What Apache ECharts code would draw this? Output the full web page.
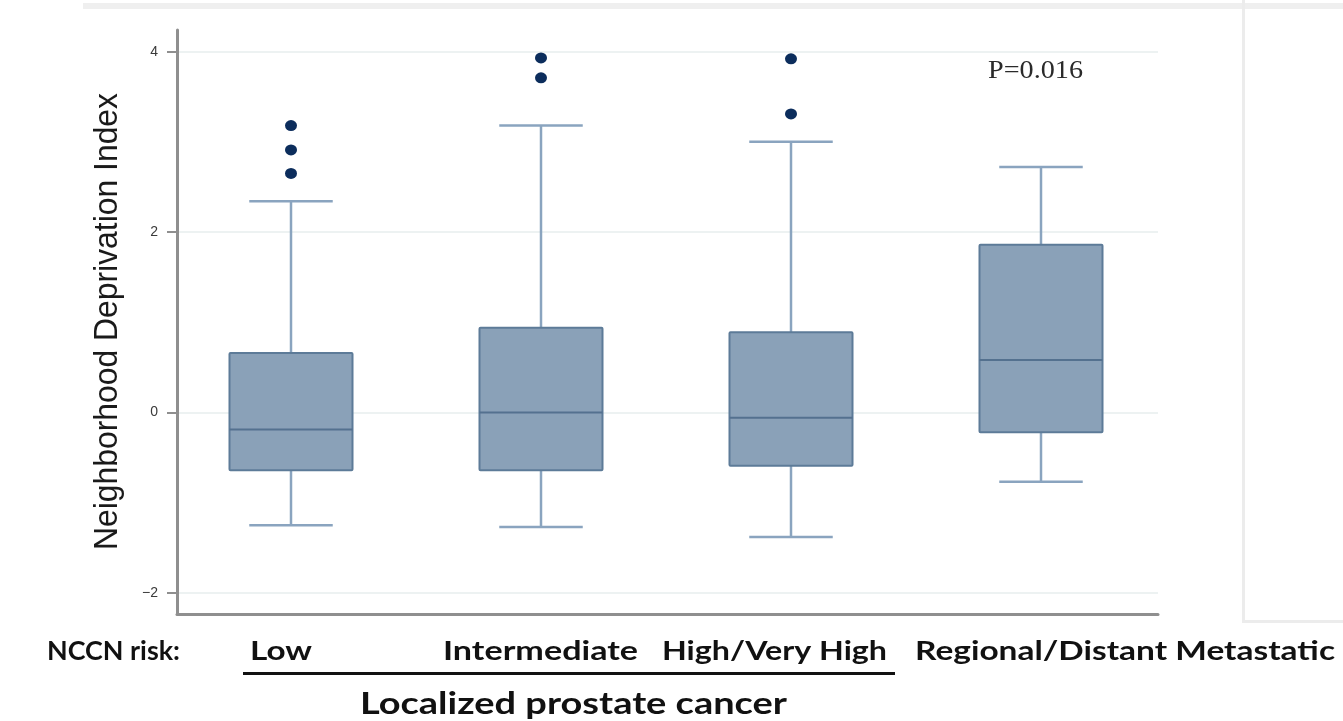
<!DOCTYPE html>
<html>
<head>
<meta charset="utf-8">
<script src="https://cdn.jsdelivr.net/npm/echarts@6/dist/echarts.min.js"></script>
<style>
  html, body { margin: 0; padding: 0; background: #ffffff; }
  #chart { width: 1343px; height: 721px; }
</style>
</head>
<body>
<div id="chart"></div>
<script>
// Neighborhood Deprivation Index by NCCN risk group
const categories = ['Low', 'Intermediate', 'High/Very High', 'Regional/Distant Metastatic'];
const whiskerLow  = [-1.25, -1.27, -1.38, -0.77];
const quartile1   = [-0.64, -0.64, -0.59, -0.22];
const median      = [-0.19,  0.00, -0.06,  0.58];
const quartile3   = [ 0.66,  0.94,  0.89,  1.86];
const whiskerHigh = [ 2.34,  3.18,  3.00,  2.72];
const outliers    = [[3.18, 2.91, 2.65], [3.93, 3.71], [3.92, 3.31], []];
const yTicks = [-2, 0, 2, 4];
const yTitle = 'Neighborhood Deprivation Index';
const pText = 'P=0.016';
const riskTitle = 'NCCN risk:';
const groupTitle = 'Localized prostate cancer';

const Y_MIN = -2.235, Y_MAX = 4.24;

const boxData = categories.map((c, i) =>
  [i, whiskerLow[i], quartile1[i], median[i], quartile3[i], whiskerHigh[i]]);
const outlierData = [];
outliers.forEach((vals, i) => vals.forEach(v => outlierData.push([i, v])));

// text fitted to a horizontal span
const measureCtx = document.createElement('canvas').getContext('2d');
function fitText(text, font, left, right, cy, fill, rotate) {
  measureCtx.font = font;
  const w = measureCtx.measureText(text).width;
  const target = right - left;
  const el = {
    type: 'text',
    x: rotate ? cy : left,
    y: rotate ? (left + right) / 2 : cy,
    scaleX: target / w,
    style: {
      text: text,
      font: font,
      fill: fill,
      textAlign: rotate ? 'center' : 'left',
      textVerticalAlign: 'middle'
    }
  };
  if (rotate) el.rotation = Math.PI / 2;
  return el;
}

const labelFont = 'bold 26px Lato';
const labelSpans = [[250, 312], [443, 638], [662, 887], [915, 1335]];
const graphics = [
  // light frame pieces around the plot
  { type: 'rect', shape: { x: 83, y: 3, width: 1260, height: 6 }, style: { fill: '#efefef' }, z: -1 },
  { type: 'rect', shape: { x: 1242, y: 0, width: 3, height: 622 }, style: { fill: '#ececec' }, z: -1 },
  { type: 'rect', shape: { x: 1242, y: 620, width: 101, height: 3 }, style: { fill: '#ececec' }, z: -1 },
  fitText(yTitle, '33px "Liberation Sans"', 93, 550, 108, '#1a1a1a', true),
  fitText(pText, '26px "Liberation Serif"', 988, 1083, 71, '#2a2a2a'),
  fitText(riskTitle, labelFont, 47, 180, 652, '#111111'),
  { type: 'rect', shape: { x: 243, y: 672, width: 652, height: 3 }, style: { fill: '#111111' } },
  fitText(groupTitle, 'bold 30px Lato', 360, 787, 704, '#111111')
];
categories.forEach((c, i) => {
  graphics.push(fitText(c, labelFont, labelSpans[i][0], labelSpans[i][1], 652, '#111111'));
});

const chart = echarts.init(document.getElementById('chart'), null, { renderer: 'canvas' });
chart.setOption({
  backgroundColor: '#ffffff',
  animation: false,
  grid: [
    { left: 177, top: 30, width: 981, height: 584 },
    { left: 166, top: 30, width: 1000, height: 584 }
  ],
  xAxis: [
    {
      gridIndex: 0, type: 'value', min: 0, max: 1,
      axisLine: { show: true, onZero: false, lineStyle: { color: '#8f8f8f', width: 3 } },
      axisTick: { show: false }, axisLabel: { show: false }, splitLine: { show: false }
    },
    {
      gridIndex: 1, type: 'category', data: categories, show: false,
      boundaryGap: true
    }
  ],
  yAxis: [
    {
      gridIndex: 0, type: 'value', min: Y_MIN, max: Y_MAX,
      axisLine: { show: true, onZero: false, lineStyle: { color: '#8f8f8f', width: 3 } },
      axisTick: { show: true, length: 10, customValues: yTicks, lineStyle: { color: '#8f8f8f', width: 2 } },
      axisLabel: {
        customValues: yTicks, margin: 19, color: '#3a3a3a',
        fontFamily: 'Liberation Sans', fontSize: 14,
        formatter: v => (v < 0 ? '\u2212' + Math.abs(v) : String(v))
      },
      splitLine: { show: true, lineStyle: { color: '#edf2f2', width: 2 } }
    },
    {
      gridIndex: 1, type: 'value', min: Y_MIN, max: Y_MAX, show: false,
      splitLine: { show: false }
    }
  ],
  graphic: graphics,
  series: [
    {
      type: 'custom',
      xAxisIndex: 1, yAxisIndex: 1,
      data: boxData,
      encode: { x: 0, y: [1, 2, 3, 4, 5] },
      renderItem: function (params, api) {
        const i = api.value(0);
        const lo = api.coord([i, api.value(1)]);
        const q1 = api.coord([i, api.value(2)]);
        const md = api.coord([i, api.value(3)]);
        const q3 = api.coord([i, api.value(4)]);
        const hi = api.coord([i, api.value(5)]);
        const band = api.size([1, 0])[0];
        const bw = band * 0.492, cw = band * 0.334;
        const cx = md[0];
        const whisker = { stroke: '#8aa4bf', lineWidth: 2.5 };
        return {
          type: 'group',
          children: [
            { type: 'line', shape: { x1: cx, y1: q3[1], x2: cx, y2: hi[1] }, style: whisker },
            { type: 'line', shape: { x1: cx, y1: q1[1], x2: cx, y2: lo[1] }, style: whisker },
            { type: 'line', shape: { x1: cx - cw / 2, y1: hi[1], x2: cx + cw / 2, y2: hi[1] }, style: whisker },
            { type: 'line', shape: { x1: cx - cw / 2, y1: lo[1], x2: cx + cw / 2, y2: lo[1] }, style: whisker },
            {
              type: 'rect',
              shape: { x: cx - bw / 2, y: q3[1], width: bw, height: q1[1] - q3[1], r: 1 },
              style: { fill: '#8aa1b8', stroke: '#5d7b98', lineWidth: 2 }
            },
            { type: 'line', shape: { x1: cx - bw / 2, y1: md[1], x2: cx + bw / 2, y2: md[1] },
              style: { stroke: '#54718f', lineWidth: 2 } }
          ]
        };
      }
    },
    {
      type: 'scatter',
      xAxisIndex: 1, yAxisIndex: 1,
      data: outlierData,
      symbol: 'circle',
      symbolSize: [12, 11],
      itemStyle: { color: '#0c2d5c', opacity: 1 },
      z: 5
    }
  ]
});
</script>
</body>
</html>
